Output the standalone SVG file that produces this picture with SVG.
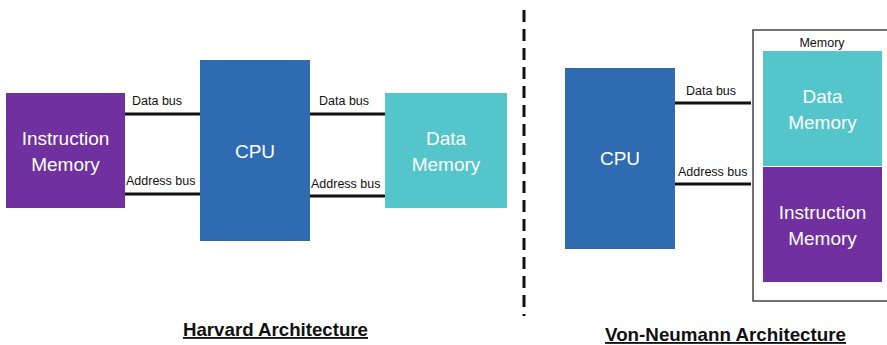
<svg xmlns="http://www.w3.org/2000/svg" width="887" height="345" viewBox="0 0 887 345">
<style>
.box-text{font-family:"Liberation Sans",Arial,sans-serif;font-size:19px;fill:#fff;text-anchor:middle}
.bus{font-family:"Liberation Sans",Arial,sans-serif;font-size:12.5px;fill:#111}
.title{font-family:"Liberation Sans",Arial,sans-serif;font-size:18.5px;font-weight:bold;fill:#111;text-decoration:underline}
.wire{stroke:#111;stroke-width:3;fill:none}
.purple{fill:#7030A0}
.blue{fill:#2E6BB1}
.teal{fill:#53C5CB}
</style>
<rect width="887" height="345" fill="#fff"/>
<g id="harvard-instruction-memory">
<rect class="purple" x="6" y="93" width="119" height="115"/>
<text class="box-text" x="65.5" y="145">Instruction</text>
<text class="box-text" x="65.5" y="171">Memory</text>
</g>
<g id="harvard-cpu">
<rect class="blue" x="200" y="60" width="110" height="181"/>
<text class="box-text" x="255" y="158">CPU</text>
</g>
<g id="harvard-data-memory">
<rect class="teal" x="385" y="93" width="122" height="115"/>
<text class="box-text" x="446" y="145">Data</text>
<text class="box-text" x="446" y="171">Memory</text>
</g>
<g id="vn-cpu">
<rect class="blue" x="565" y="68" width="110" height="181"/>
<text class="box-text" x="620" y="165">CPU</text>
</g>
<g id="vn-memory">
<rect x="753" y="30" width="140" height="271" fill="#fff" stroke="#444" stroke-width="1.5"/>
<text class="bus" x="822" y="47" text-anchor="middle" font-size="14">Memory</text>
<g id="vn-data-memory">
<rect class="teal" x="763" y="51" width="119" height="115"/>
<text class="box-text" x="822.5" y="103">Data</text>
<text class="box-text" x="822.5" y="129">Memory</text>
</g>
<g id="vn-instruction-memory">
<rect class="purple" x="763" y="167" width="119" height="115"/>
<text class="box-text" x="822.5" y="219">Instruction</text>
<text class="box-text" x="822.5" y="245">Memory</text>
</g>
</g>
<g id="connectors">
<line class="wire" x1="125" y1="114" x2="200" y2="114"/>
<line class="wire" x1="125" y1="194" x2="200" y2="194"/>
<line class="wire" x1="310" y1="114" x2="385" y2="114"/>
<line class="wire" x1="310" y1="196" x2="385" y2="196"/>
<line class="wire" x1="675" y1="103" x2="751" y2="103"/>
<line class="wire" x1="675" y1="184" x2="751" y2="184"/>
<line x1="524" y1="10" x2="524" y2="316" stroke="#111" stroke-width="3" stroke-dasharray="12 7"/>
</g>
<g id="labels">
<text class="bus" x="132" y="105">Data bus</text>
<text class="bus" x="126" y="185">Address bus</text>
<text class="bus" x="319" y="105">Data bus</text>
<text class="bus" x="311" y="188">Address bus</text>
<text class="bus" x="686" y="95">Data bus</text>
<text class="bus" x="678" y="176">Address bus</text>
<text class="title" x="183" y="336" textLength="185" lengthAdjust="spacingAndGlyphs">Harvard Architecture</text>
<text class="title" x="605" y="341" textLength="241" lengthAdjust="spacingAndGlyphs">Von-Neumann Architecture</text>
</g>
</svg>
